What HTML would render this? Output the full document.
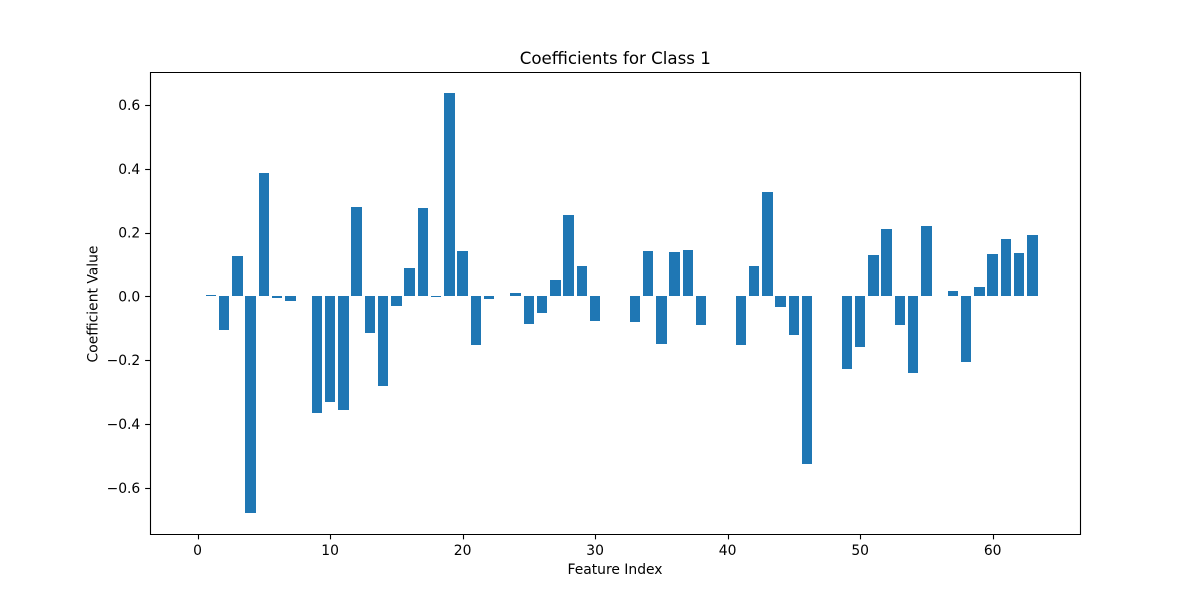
<!DOCTYPE html>
<html lang="en">
<head>
<meta charset="utf-8">
<title>Coefficients for Class 1</title>
<style>
  html, body { margin: 0; padding: 0; background: #ffffff; }
  #chart { display: block; width: 1200px; height: 600px; }
  text { font-family: "DejaVu Sans", "Liberation Sans", sans-serif; fill: #000000; }
</style>
</head>
<body>
<svg id="chart" xmlns="http://www.w3.org/2000/svg" width="1200" height="600" viewBox="0 0 1200 600">
  <rect x="0" y="0" width="1200" height="600" fill="#ffffff"></rect>
  <rect x="150" y="72" width="930" height="462" fill="#ffffff"></rect>
  <g id="bars"></g>
  <g id="x-ticks"></g>
  <g id="y-ticks"></g>
  <g stroke="#000000" stroke-width="1.11" fill="none">
    <line x1="150.5" y1="72" x2="150.5" y2="535"></line>
    <line x1="1080.5" y1="72" x2="1080.5" y2="535"></line>
    <line x1="150" y1="72.5" x2="1081" y2="72.5"></line>
    <line x1="150" y1="534.5" x2="1081" y2="534.5"></line>
  </g>
  <text x="615.3" y="64" text-anchor="middle" font-size="16.67">Coefficients for Class 1</text>
  <text x="615" y="574" text-anchor="middle" font-size="13.89">Feature Index</text>
  <text transform="translate(97.5 304) rotate(-90)" text-anchor="middle" font-size="13.89">Coefficient Value</text>
</svg>
<script>
const coefficients = [
  0, 0.004, -0.104, 0.127, -0.679, 0.387, -0.006, -0.015, 0, -0.365,
  -0.331, -0.356, 0.281, -0.114, -0.281, -0.031, 0.089, 0.277, -0.003, 0.638,
  0.143, -0.152, -0.009, 0, 0.011, -0.086, -0.052, 0.052, 0.255, 0.096,
  -0.077, 0, 0, -0.08, 0.143, -0.149, 0.14, 0.146, -0.089, 0,
  0, -0.152, 0.096, 0.328, -0.033, -0.121, -0.525, 0, 0, -0.227,
  -0.158, 0.13, 0.212, -0.089, -0.24, 0.221, 0, 0.017, -0.205, 0.03,
  0.133, 0.18, 0.136, 0.193
];
const xTickValues = [0, 10, 20, 30, 40, 50, 60];
const xTickLabels = ["0", "10", "20", "30", "40", "50", "60"];
const yTickValues = [-0.6, -0.4, -0.2, 0, 0.2, 0.4, 0.6];
const yTickLabels = ["\u22120.6", "\u22120.4", "\u22120.2", "0.0", "0.2", "0.4", "0.6"];

const SVG_NS = "http://www.w3.org/2000/svg";
const plot = { left: 150, right: 1080, top: 72, bottom: 534 };
const barWidth = 0.8;

const xDataMin = -barWidth / 2;
const xDataMax = coefficients.length - 1 + barWidth / 2;
const xMargin = (xDataMax - xDataMin) * 0.05;
const xDomain = [xDataMin - xMargin, xDataMax + xMargin];

const yDataMin = Math.min(0, ...coefficients);
const yDataMax = Math.max(0, ...coefficients);
const yMargin = (yDataMax - yDataMin) * 0.05;
const yDomain = [yDataMin - yMargin, yDataMax + yMargin];

function xScale(v) {
  return plot.left + (v - xDomain[0]) / (xDomain[1] - xDomain[0]) * (plot.right - plot.left);
}
function yScale(v) {
  return plot.bottom - (v - yDomain[0]) / (yDomain[1] - yDomain[0]) * (plot.bottom - plot.top);
}
function snapLine(p) {
  return Math.floor(p + 0.5) + 0.5;
}

const barsGroup = document.getElementById("bars");
coefficients.forEach(function (value, i) {
  const x0 = Math.round(xScale(i - barWidth / 2));
  const x1 = Math.round(xScale(i + barWidth / 2));
  const yZero = Math.round(yScale(0));
  const yValue = Math.round(yScale(value));
  const rect = document.createElementNS(SVG_NS, "rect");
  
  
  rect.setAttribute("x", x0);
  rect.setAttribute("y", Math.min(yZero, yValue));
  rect.setAttribute("width", x1 - x0);
  rect.setAttribute("height", Math.abs(yValue - yZero));
  rect.setAttribute("fill", "#1f77b4");
  rect.setAttribute("shape-rendering", "crispEdges");
  barsGroup.appendChild(rect);
});

const xTicksGroup = document.getElementById("x-ticks");
xTickValues.forEach(function (value, i) {
  const px = snapLine(xScale(value));
  const tick = document.createElementNS(SVG_NS, "line");
  
  
  tick.setAttribute("x1", px);
  tick.setAttribute("x2", px);
  tick.setAttribute("y1", plot.bottom);
  tick.setAttribute("y2", plot.bottom + 5.36);
  tick.setAttribute("stroke", "#000000");
  tick.setAttribute("stroke-width", "1.11");
  xTicksGroup.appendChild(tick);
  const label = document.createElementNS(SVG_NS, "text");
  
  
  label.setAttribute("x", xScale(value));
  label.setAttribute("y", 555);
  label.setAttribute("text-anchor", "middle");
  label.setAttribute("font-size", "13.89");
  label.textContent = xTickLabels[i];
  xTicksGroup.appendChild(label);
});

const yTicksGroup = document.getElementById("y-ticks");
yTickValues.forEach(function (value, i) {
  const py = snapLine(yScale(value));
  const tick = document.createElementNS(SVG_NS, "line");
  
  
  tick.setAttribute("x1", plot.left);
  tick.setAttribute("x2", plot.left - 4.86);
  tick.setAttribute("y1", py);
  tick.setAttribute("y2", py);
  tick.setAttribute("stroke", "#000000");
  tick.setAttribute("stroke-width", "1.11");
  yTicksGroup.appendChild(tick);
  const label = document.createElementNS(SVG_NS, "text");
  
  
  label.setAttribute("x", plot.left - 9.72);
  label.setAttribute("y", yScale(value) + 5);
  label.setAttribute("text-anchor", "end");
  label.setAttribute("font-size", "13.89");
  label.textContent = yTickLabels[i];
  yTicksGroup.appendChild(label);
});
</script>
</body>
</html>
